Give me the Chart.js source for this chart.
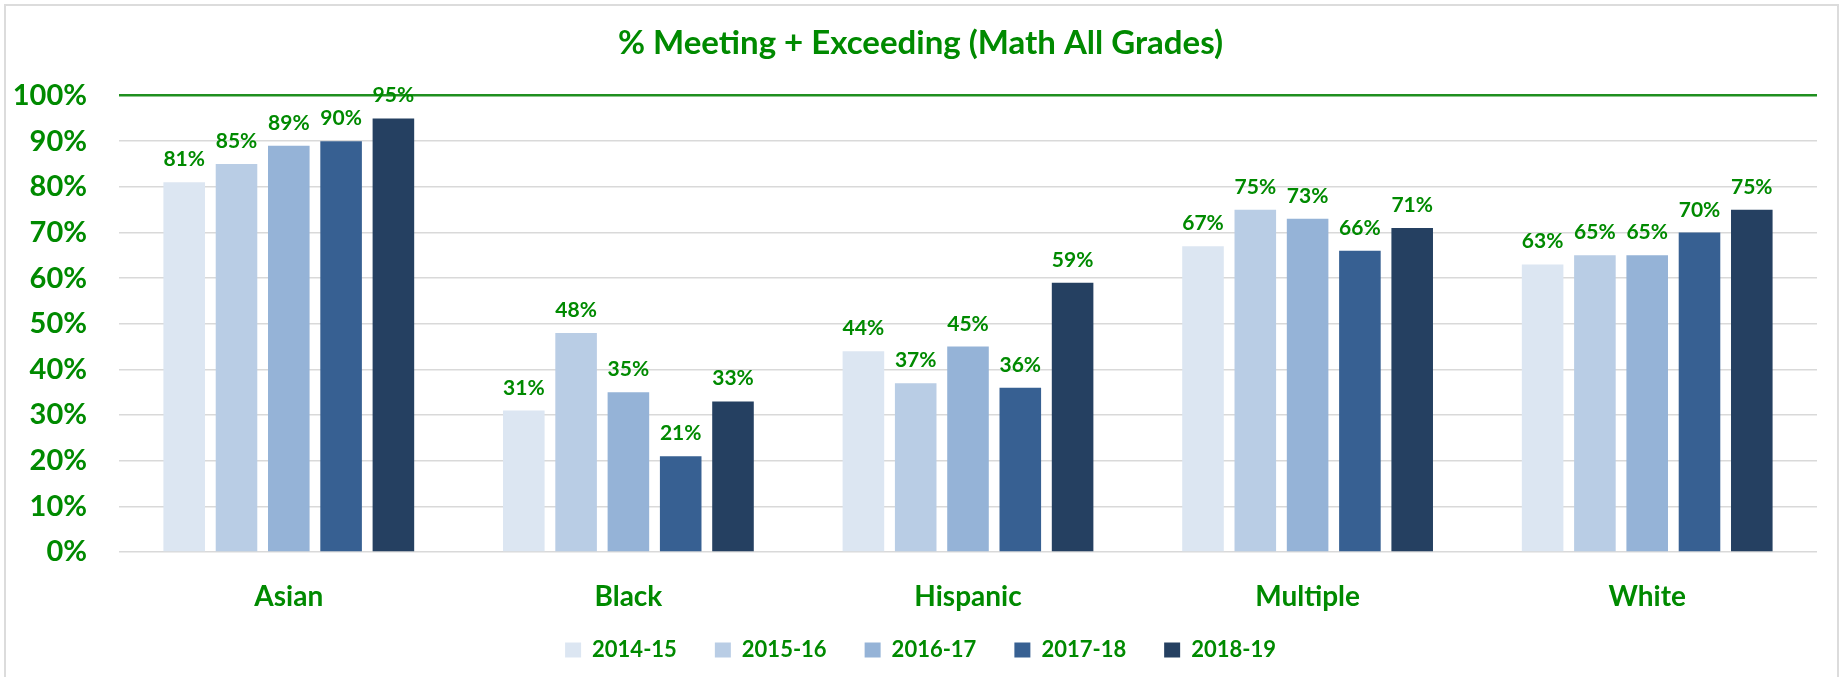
<!DOCTYPE html>
<html><head><meta charset="utf-8">
<script src="https://cdn.jsdelivr.net/npm/chart.js@4"></script>
<style>
html,body{margin:0;padding:0;background:#fff;overflow:hidden;}
#wrap{position:relative;width:1841px;height:677px;}
#frame{position:absolute;left:4px;top:4px;width:1835px;height:720px;border:2px solid #dcdcdc;box-sizing:border-box;}
#c{position:absolute;left:0;top:0;}
</style></head><body>
<div id="wrap"><div id="frame"></div><canvas id="c" width="1841" height="677"></canvas></div>
<script>
const categories = ['Asian', 'Black', 'Hispanic', 'Multiple', 'White'];
const seriesLabels = ['2014-15', '2015-16', '2016-17', '2017-18', '2018-19'];
const v2014_15 = [81, 31, 44, 67, 63];
const v2015_16 = [85, 48, 37, 75, 65];
const v2016_17 = [89, 35, 45, 73, 65];
const v2017_18 = [90, 21, 36, 66, 70];
const v2018_19 = [95, 33, 59, 71, 75];
const yTickValues = [0, 10, 20, 30, 40, 50, 60, 70, 80, 90, 100];
const titleText = '% Meeting + Exceeding (Math All Grades)';

const seriesValues = [v2014_15, v2015_16, v2016_17, v2017_18, v2018_19];
const seriesColors = ['#dce6f2', '#b9cde5', '#95b3d7', '#376092', '#254061'];
const GREEN = '#008a00';
const FONT = 'Lato';

const barLabels = {
  id: 'barLabels',
  afterDatasetsDraw(chart) {
    const ctx = chart.ctx;
    ctx.save();
    ctx.font = 'bold 21px ' + FONT;
    ctx.fillStyle = GREEN;
    ctx.textAlign = 'center';
    ctx.textBaseline = 'alphabetic';
    chart.data.datasets.forEach((ds, i) => {
      chart.getDatasetMeta(i).data.forEach((bar, j) => {
        ctx.fillText(ds.data[j] + '%', bar.x, bar.y - 16);
      });
    });
    ctx.restore();
  }
};

function build() {
  new Chart(document.getElementById('c'), {
    type: 'bar',
    data: {
      labels: categories,
      datasets: seriesLabels.map((lab, i) => ({
        label: lab,
        data: seriesValues[i],
        backgroundColor: seriesColors[i],
        borderWidth: 0,
        categoryPercentage: 0.77,
        barPercentage: 0.795
      }))
    },
    options: {
      responsive: false,
      animation: false,
      devicePixelRatio: 1,
      layout: { padding: { left: 24, right: 24, top: 0, bottom: 6 } },
      plugins: {
        title: {
          display: true, text: titleText, color: GREEN,
          font: { family: FONT, size: 33, weight: 'bold' },
          padding: { top: 24, bottom: 32 }
        },
        legend: {
          position: 'bottom',
          labels: {
            color: GREEN, boxWidth: 16, boxHeight: 15, padding: 38,
            font: { family: FONT, size: 22, weight: 'bold' }
          }
        },
        tooltip: { enabled: false }
      },
      scales: {
        x: {
          grid: { display: false, drawTicks: false },
          border: { display: false },
          ticks: { color: GREEN, padding: 28, font: { family: FONT, size: 28, weight: 'bold' } },
          afterFit: s => { s.height = 49; s._computeLabelArea = () => undefined; }
        },
        y: {
          min: 0, max: 100,
          afterBuildTicks: s => { s.ticks = yTickValues.map(v => ({ value: v })); },
          grid: {
            drawTicks: false,
            color: c => (c.tick && c.tick.value === 100) ? '#1f8f1f' : '#d9d9d9',
            lineWidth: c => (c.tick && c.tick.value === 100) ? 2.5 : 1.5
          },
          border: { display: false },
          ticks: {
            color: GREEN, padding: 32,
            font: { family: FONT, size: 29, weight: 'bold' },
            callback: v => v + '%'
          },
          afterFit: s => { s.width = 95; s._computeLabelArea = () => undefined; }
        }
      }
    },
    plugins: [barLabels]
  });
}
(document.fonts && document.fonts.load ? Promise.all([document.fonts.load('bold 20px Lato')]) : Promise.resolve()).then(build, build);
</script>
</body></html>
